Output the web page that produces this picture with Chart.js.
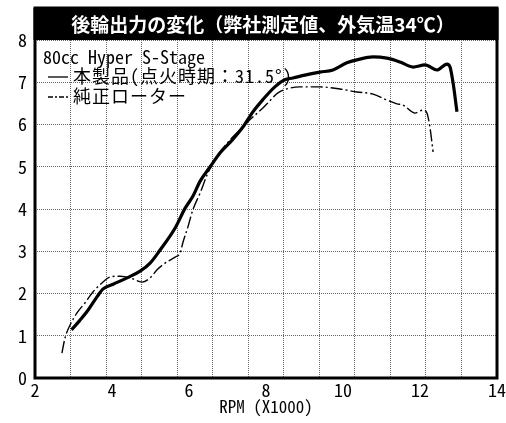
<!DOCTYPE html>
<html>
<head>
<meta charset="utf-8">
<script src="https://cdn.jsdelivr.net/npm/chart.js@4/dist/chart.umd.min.js"></script>
<style>
  html, body { margin: 0; padding: 0; background: #fff; }
  #wrap { width: 506px; height: 423px; }
</style>
</head>
<body>
<div id="wrap"><canvas id="c" width="506" height="423"></canvas></div>
<script>
// Texts
const chartTitle = '後輪出力の変化（弊社測定値、外気温34℃）';
const legendHeader = '80cc Hyper S-Stage';
const seriesNames = ['本製品(点火時期：31.5°)', '純正ローター'];
const xAxisTitle = 'RPM (X1000)';

// Tick labels
const xTicks = [2, 4, 6, 8, 10, 12, 14];
const yTicks = [0, 1, 2, 3, 4, 5, 6, 7, 8];

// Rear-wheel power, this product (rpm x1000 / power)
const rpmProduct = [2.95, 3.17, 3.38, 3.61, 3.77, 4.03, 4.39, 4.73, 4.99, 5.25,
  5.64, 5.90, 6.10, 6.29, 6.55, 6.81, 7.12, 7.40, 7.66, 7.92,
  8.23, 8.49, 8.70, 9.01, 9.40, 9.74, 10.10, 10.36, 10.78, 11.14,
  11.48, 11.82, 12.13, 12.44, 12.70, 12.78, 12.86, 12.96];
const powerProduct = [1.14, 1.37, 1.61, 1.92, 2.11, 2.22, 2.37, 2.53, 2.72, 3.03,
  3.55, 4.02, 4.30, 4.66, 5.00, 5.33, 5.63, 5.94, 6.30, 6.59,
  6.89, 7.06, 7.10, 7.17, 7.24, 7.29, 7.46, 7.53, 7.60, 7.57,
  7.48, 7.36, 7.41, 7.29, 7.43, 7.36, 6.98, 6.30];

// Rear-wheel power, stock rotor
const rpmStock = [2.70, 2.78, 2.91, 3.09, 3.30, 3.51, 3.74, 3.95, 4.21, 4.47,
  4.78, 4.99, 5.17, 5.43, 5.64, 5.77, 5.84, 5.97, 6.10, 6.29,
  6.49, 6.75, 7.06, 7.32, 7.58, 7.92, 8.10, 8.31, 8.62, 8.88,
  9.40, 9.92, 10.36, 10.78, 11.14, 11.40, 11.56, 11.87, 12.08, 12.18,
  12.26, 12.34];
const powerStock = [0.59, 0.95, 1.25, 1.54, 1.78, 2.04, 2.25, 2.39, 2.41, 2.37,
  2.27, 2.37, 2.56, 2.75, 2.86, 2.96, 3.20, 3.57, 3.98, 4.38,
  4.85, 5.28, 5.63, 5.87, 6.11, 6.39, 6.56, 6.75, 6.86, 6.89,
  6.89, 6.84, 6.77, 6.72, 6.58, 6.49, 6.46, 6.27, 6.34, 6.27,
  5.92, 5.35];

const MONO = '"Noto Sans Mono CJK JP", "Noto Sans CJK JP", sans-serif';
const SANS = '"Noto Sans CJK JP", sans-serif';
Chart.defaults.font.family = MONO;
Chart.defaults.color = '#000';

const toPoints = (xs, ys) => xs.map((x, i) => ({ x, y: ys[i] }));

// Black heading bar, outer frame and the in-plot legend
const framePlugin = {
  id: 'frame',
  afterDraw(chart) {
    const { ctx, chartArea: a } = chart;
    const barTop = 8;
    ctx.save();
    ctx.fillStyle = '#000';
    ctx.fillRect(a.left - 1.5, barTop, a.right - a.left + 3, a.top - barTop);
    ctx.fillStyle = '#fff';
    ctx.font = 'bold 19px ' + SANS;
    ctx.textAlign = 'center';
    ctx.textBaseline = 'middle';
    ctx.fillText(chartTitle, (a.left + a.right) / 2 - 3, (barTop + a.top) / 2 + 1);

    ctx.strokeStyle = '#000';
    ctx.lineWidth = 3;
    ctx.strokeRect(a.left, barTop, a.right - a.left, a.bottom - barTop);

    // legend
    ctx.fillStyle = '#000';
    ctx.textAlign = 'left';
    ctx.font = '18px ' + MONO;
    ctx.fillText(legendHeader, a.left + 8, 57);
    const rows = [77, 97];
    chart.data.datasets.forEach((ds, i) => {
      const y = rows[i];
      ctx.beginPath();
      ctx.lineWidth = 1.3;
      ctx.setLineDash(i === 0 ? [] : [5, 2, 2, 2]);
      ctx.moveTo(a.left + 13, y);
      ctx.lineTo(a.left + 33, y);
      ctx.stroke();
      ctx.setLineDash([]);
      ctx.letterSpacing = '1px';
      ctx.fillText(ds.label, a.left + 38, y - 1);
      ctx.letterSpacing = '0px';
    });
    ctx.restore();
  }
};

new Chart(document.getElementById('c'), {
  type: 'line',
  data: {
    datasets: [
      {
        label: seriesNames[0],
        data: toPoints(rpmProduct, powerProduct),
        borderColor: '#000',
        borderWidth: 3.2,
        pointRadius: 0,
        cubicInterpolationMode: 'monotone',
        fill: false
      },
      {
        label: seriesNames[1],
        data: toPoints(rpmStock, powerStock),
        borderColor: '#000',
        borderWidth: 1.4,
        borderDash: [12, 3, 2, 3],
        pointRadius: 0,
        cubicInterpolationMode: 'monotone',
        fill: false
      }
    ]
  },
  options: {
    responsive: false,
    animation: false,
    devicePixelRatio: 1,
    layout: { padding: { top: 40, right: 9, left: 0, bottom: 0 } },
    plugins: { legend: { display: false }, tooltip: { enabled: false }, title: { display: false } },
    scales: {
      x: {
        type: 'linear',
        min: 2,
        max: 14,
        afterBuildTicks: s => { s.ticks = xTicks.map(v => ({ value: v })); },
        grid: { display: false },
        border: { display: false },
        ticks: { padding: -7, font: { size: 18 }, color: '#000', maxRotation: 0 },
        title: { display: true, text: xAxisTitle, font: { size: 17 }, color: '#000', padding: { top: 0, bottom: 6 } },
        afterFit: s => { s.height = 45; }
      },
      xg: {
        type: 'linear',
        position: 'bottom',
        min: 0,
        max: 13,
        ticks: { display: false, stepSize: 1 },
        grid: { color: '#666', lineWidth: 1, drawTicks: false },
        border: { display: false, dash: [1, 1] },
        afterFit: s => { s.height = 0; }
      },
      y: {
        min: 0,
        max: 8,
        afterBuildTicks: s => { s.ticks = yTicks.map(v => ({ value: v })); },
        grid: { color: '#666', lineWidth: 1, drawTicks: false },
        border: { display: false, dash: [1, 1] },
        ticks: { padding: 8, font: { size: 18 }, color: '#000' },
        afterFit: s => { s.width = 35; }
      }
    }
  },
  plugins: [framePlugin]
});
</script>
</body>
</html>
